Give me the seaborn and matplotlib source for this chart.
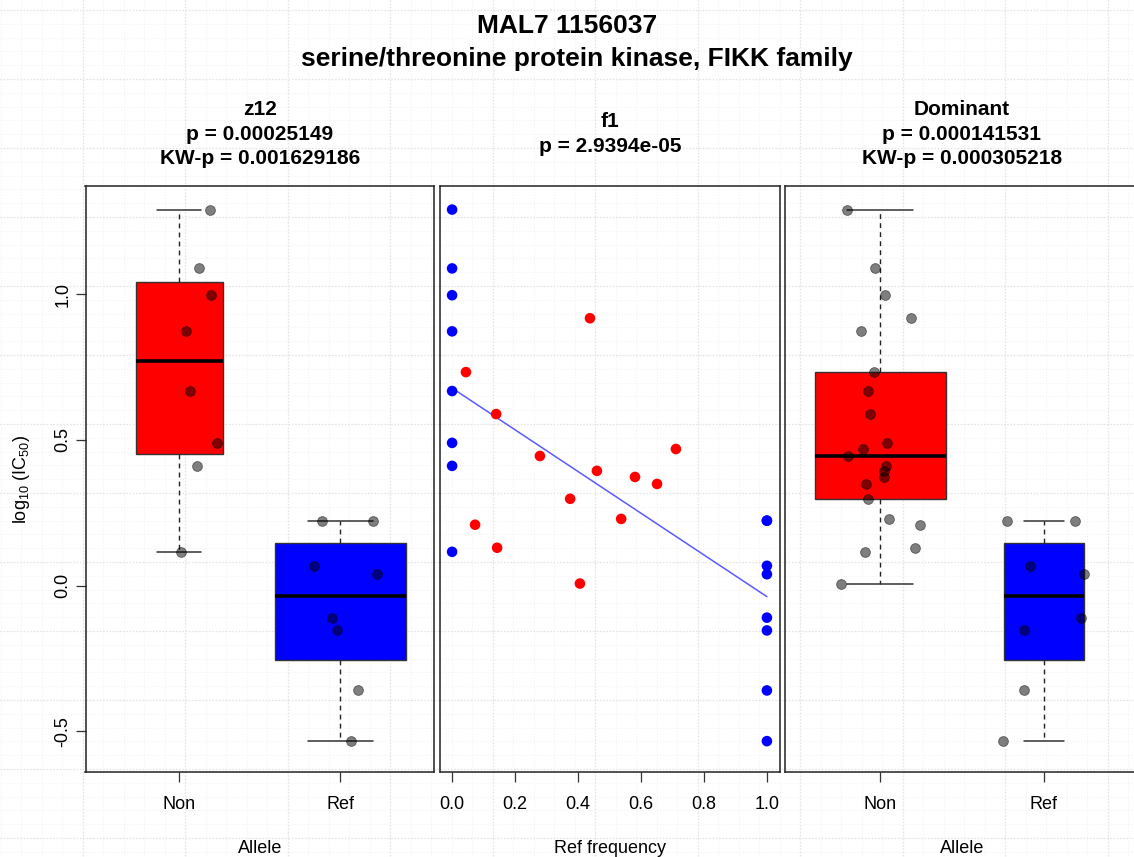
import numpy as np
import pandas as pd
import matplotlib
matplotlib.use("Agg")
import matplotlib.pyplot as plt
import seaborn as sns

# log10(IC50) values
non_vals = [1.291, 1.089, 0.997, 0.873, 0.668, 0.490, 0.411, 0.116]
ref_vals = [0.223, 0.223, 0.068, 0.039, -0.110, -0.154, -0.360, -0.534]
mixed_vals = [0.733, 0.589, 0.918, 0.445, 0.394, 0.373, 0.349, 0.469,
              0.209, 0.130, 0.298, 0.229, 0.007]
mixed_freq = [0.044, 0.140, 0.438, 0.279, 0.460, 0.581, 0.651, 0.711,
              0.073, 0.143, 0.375, 0.537, 0.406]

# horizontal jitter of the strip points, as drawn
z12_non_jit = [0.193, 0.124, 0.199, 0.043, 0.068, 0.236, 0.112, 0.012]
z12_ref_jit = [-0.112, 0.205, -0.161, 0.224, -0.050, -0.019, 0.112, 0.068]
dom_non_jit = [-0.201, -0.030, 0.030, -0.116, -0.073, 0.043, 0.037, -0.091,
               -0.037, -0.061, 0.189, -0.195, 0.024, 0.024, -0.085, -0.104,
               0.244, 0.213, -0.073, 0.055, -0.238]
dom_ref_jit = [-0.226, 0.189, -0.085, 0.244, 0.226, -0.122, -0.122, -0.250]

groups = ["Non", "Ref"]
freq_ticks = [0.0, 0.2, 0.4, 0.6, 0.8, 1.0]

main_title = "MAL7 1156037\nserine/threonine protein kinase, FIKK family"
z12_title = ["z12", "p = 0.00025149", "KW-p = 0.001629186"]
f1_title = ["f1", "p = 2.9394e-05"]
dom_title = ["Dominant", "p = 0.000141531", "KW-p = 0.000305218"]

W, H = 1134, 857


def fx(px):
    return px / W


def fy(py):
    return 1 - py / H


def fivenum(v):
    # Tukey hinges, like R's boxplot
    v = np.sort(np.asarray(v))
    n = len(v)
    n4 = np.floor((n + 3) / 2) / 2
    d = np.array([1, n4, (n + 1) / 2, n + 1 - n4, n]) - 1
    return 0.5 * (v[np.floor(d).astype(int)] + v[np.ceil(d).astype(int)])


def box_stats(v):
    lo, q1, med, q3, hi = fivenum(v)
    iqr = q3 - q1
    v = np.asarray(v)
    wlo = v[v >= q1 - 1.5 * iqr].min()
    whi = v[v <= q3 + 1.5 * iqr].max()
    return dict(med=med, q1=q1, q3=q3, whislo=wlo, whishi=whi, fliers=[])


sns.set_theme(style="white")
plt.rcParams["font.family"] = ["Liberation Sans", "DejaVu Sans"]
plt.rcParams["mathtext.fontset"] = "custom"
plt.rcParams["mathtext.rm"] = "Liberation Sans"
plt.rcParams["mathtext.it"] = "Liberation Sans:italic"
for k in ["text.color", "axes.labelcolor", "xtick.color", "ytick.color"]:
    plt.rcParams[k] = "black"

fig = plt.figure(figsize=(W / 100, H / 100), dpi=100, facecolor="white")

# faint dotted grid behind the whole figure
bg = fig.add_axes([0, 0, 1, 1], zorder=-10)
bg.set_xlim(0, W)
bg.set_ylim(H, 0)
bg.axis("off")
bg.vlines(np.arange(-20, W, 20.5), 0, H, colors="#f3f3f3", linestyles=":", lw=0.8)
bg.hlines(np.arange(10, H, 13.8), 0, W, colors="#f3f3f3", linestyles=":", lw=0.8)
bg.vlines(np.arange(-20, W, 102.5), 0, H, colors="#e2e2e2", linestyles=":", lw=0.9)
bg.hlines(np.arange(10, H, 69), 0, W, colors="#e2e2e2", linestyles=":", lw=0.9)

top, bot = 186, 772
ylim = (-0.64, 1.372)


def make_ax(x0, x1):
    ax = fig.add_axes([fx(x0), fy(bot), (x1 - x0) / W, (bot - top) / H])
    ax.set_facecolor("none")
    for s in ax.spines.values():
        s.set_color("#222222")
        s.set_linewidth(1.1)
    ax.set_ylim(*ylim)
    ax.tick_params(direction="out", length=7, width=0.9, color="#333333",
                   labelsize=13, pad=10.5, bottom=True, left=True)
    return ax


def box_panel(ax, data, jits, widths):
    stats = [box_stats(d) for d in data]
    art = ax.bxp(stats, positions=[0, 1], widths=widths, patch_artist=True,
                 showfliers=False, capwidths=[w / 2 for w in widths],
                 boxprops=dict(edgecolor="#333333", linewidth=1.0),
                 medianprops=dict(color="black", linewidth=2.6, solid_capstyle="butt"),
                 whiskerprops=dict(color="#222222", linewidth=1.0, linestyle=(0, (3.5, 3))),
                 capprops=dict(color="#333333", linewidth=1.1))
    for b, c in zip(art["boxes"], ["#ff0000", "#0000ff"]):
        b.set_facecolor(c)
    pts = pd.DataFrame({
        "x": [i + j for i, (d, jj) in enumerate(zip(data, jits)) for j in jj],
        "y": [v for d in data for v in d],
    })
    sns.scatterplot(data=pts, x="x", y="y", color="black", alpha=0.5, s=50,
                    linewidth=0.6, edgecolor="black", ax=ax, zorder=5)
    ax.set_xlim(-0.58, 1.58)
    ax.set_xticks([0, 1])
    ax.set_xticklabels(groups)
    ax.set_xlabel("")
    ax.set_ylabel("")


# left panel: z12
ax1 = make_ax(85.5, 434)
box_panel(ax1, [non_vals, ref_vals], [z12_non_jit, z12_ref_jit], [0.54, 0.81])
ax1.set_yticks([-0.5, 0.0, 0.5, 1.0])
ax1.set_yticklabels(["-0.5", "0.0", "0.5", "1.0"])
ax1.tick_params(axis="y", pad=3)
for lab in ax1.get_yticklabels():
    lab.set_rotation(90)
    lab.set_va("center")

# middle panel: ref frequency
ax2 = make_ax(439.5, 779.5)
mid = pd.DataFrame({
    "freq": [0.0] * len(non_vals) + [1.0] * len(ref_vals) + mixed_freq,
    "val": non_vals + ref_vals + mixed_vals,
})
mid["kind"] = np.where(mid["freq"].isin([0.0, 1.0]), "fixed", "mixed")
sns.regplot(data=mid, x="freq", y="val", scatter=False, ci=None, truncate=True,
            color="#5a5aff", line_kws=dict(linewidth=1.1, zorder=2), ax=ax2)
sns.scatterplot(data=mid, x="freq", y="val", hue="kind",
                palette={"fixed": "#0000ff", "mixed": "#ff0000"},
                s=58, linewidth=0, legend=False, ax=ax2, zorder=5)
ax2.set_xlim(-0.04, 1.04)
ax2.set_ylim(*ylim)
ax2.set_xticks(freq_ticks)
ax2.set_xticklabels([f"{t:.1f}" for t in freq_ticks])
ax2.set_yticks([])
ax2.set_xlabel("")
ax2.set_ylabel("")

# right panel: dominant
ax3 = make_ax(785, 1139)
box_panel(ax3, [non_vals + mixed_vals, ref_vals], [dom_non_jit, dom_ref_jit], [0.80, 0.49])
ax3.set_yticks([])

# titles and labels
l1, l2 = main_title.split("\n")
fig.text(fx(567), fy(33), l1, ha="center", va="baseline", fontsize=19, fontweight="bold")
fig.text(fx(577), fy(66), l2, ha="center", va="baseline", fontsize=19, fontweight="bold")

for cx, lines, base in [(260, z12_title, [115, 139.5, 164]),
                        (610, f1_title, [127, 152]),
                        (962, dom_title, [115, 139.5, 164])]:
    for t, b in zip(lines, base):
        fig.text(fx(cx), fy(b), t, ha="center", va="baseline",
                 fontsize=15, fontweight="bold")

for cx, t in [(260, "Allele"), (610, "Ref frequency"), (962, "Allele")]:
    fig.text(fx(cx), fy(853), t, ha="center", va="baseline", fontsize=13)

fig.text(fx(22), fy(479), r"log$_{\mathrm{10}}$ (IC$_{\mathrm{50}}$)", rotation=90,
         ha="center", va="center", fontsize=13)

fig.savefig("out.png", dpi=100)
